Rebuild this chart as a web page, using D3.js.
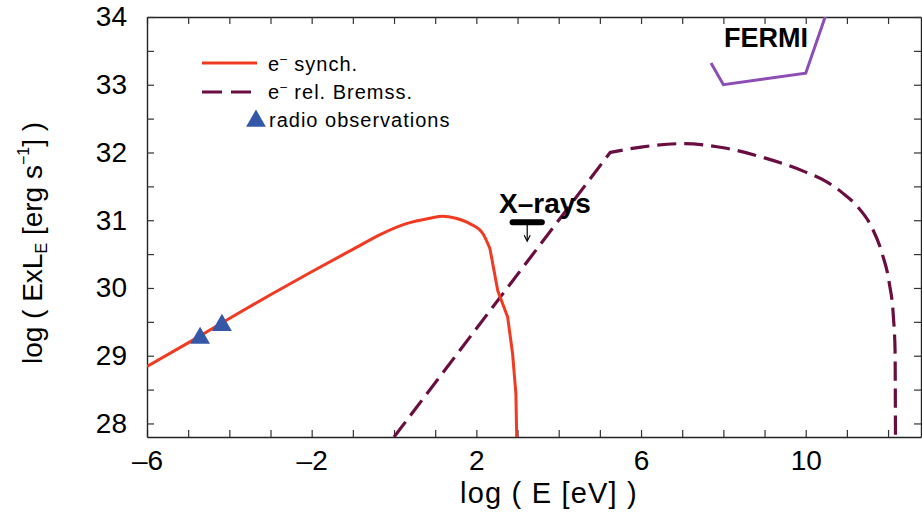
<!DOCTYPE html>
<html lang="en">
<head>
<meta charset="UTF-8">
<title>SED</title>
<script src="https://d3js.org/d3.v7.min.js"></script>
<style>
  body { margin: 0; background: #fff; }
  text { font-family: "Liberation Sans", Arial, sans-serif; fill: #000; }
</style>
</head>
<body>
<svg class="chart"></svg>
<script>
const svgW = 922, svgH = 514

// electron synchrotron curve (smooth part, then the steep cut-off)
const synchX = [-6, -5, -4, -3, -2, -1, -0.3, 0.3, 0.87, 1.18, 1.5, 1.84, 2.16, 2.33]
const synchY = [28.84, 29.19, 29.55, 29.9, 30.24, 30.57, 30.8, 30.95, 31.03, 31.06, 31.03, 30.95, 30.8, 30.58]
const synchCutX = [2.33, 2.52, 2.76, 2.88, 2.96, 2.98]
const synchCutY = [30.58, 29.96, 29.57, 29.03, 28.44, 27.8]
// relativistic bremsstrahlung curve (power-law rise, then the hump)
const bremRiseX = [0.0, 5.25]
const bremRiseY = [27.8, 32.0]
const bremX = [5.25, 6, 7, 8, 9, 10, 10.5, 10.9, 11.23, 11.6, 11.86, 12.03, 12.13, 12.17, 12.18]
const bremY = [32.0, 32.08, 32.13, 32.07, 31.92, 31.71, 31.57, 31.4, 31.22, 30.9, 30.5, 30.07, 29.57, 29.08, 27.8]
// FERMI bow
const fermiX = [7.7, 8.0, 10.0, 10.5]
const fermiY = [33.32, 33.0, 33.17, 34.05]
// radio observations
const radioX = [-4.71, -4.18]
const radioY = [29.26, 29.45]
// X-ray upper limit
const xrayBand = [2.88, 3.59]
const xrayLevel = 30.97
const xrayTip = 30.69

const xTicks = d3.range(-6, 13, 1)
const xLabels = [-6, -2, 2, 6, 10]
const yTicks = d3.range(28, 34.01, 0.5)
const yLabels = [28, 29, 30, 31, 32, 33, 34]

const m = { left: 147, top: 17, right: 1, bottom: 77 }
const w = svgW - m.left - m.right
const h = svgH - m.top - m.bottom

const svg = d3.select(".chart").attr("width", svgW).attr("height", svgH)
const g = svg.append("g").attr("transform", `translate(${m.left},${m.top})`)

const x = d3.scaleLinear().domain([-6, 12.8]).range([0, w])
const y = d3.scaleLinear().domain([27.8, 34]).range([h, 0])

const fmt = d => d < 0 ? "\u2013" + Math.abs(d) : String(d)
const tick = 7

// axes, ticks point inward on all four sides
g.append("g").attr("transform", `translate(0,${h})`)
  .call(d3.axisBottom(x).tickValues(xTicks).tickSizeInner(-tick).tickSizeOuter(0).tickPadding(13)
    .tickFormat(d => xLabels.includes(d) ? fmt(d) : ""))
g.append("g")
  .call(d3.axisTop(x).tickValues(xTicks).tickSizeInner(-tick).tickSizeOuter(0).tickFormat(""))
g.append("g")
  .call(d3.axisLeft(y).tickValues(yTicks).tickSizeInner(-tick).tickSizeOuter(0).tickPadding(20)
    .tickFormat(d => yLabels.includes(d) ? d : ""))
g.append("g").attr("transform", `translate(${w},0)`)
  .call(d3.axisRight(y).tickValues(yTicks).tickSizeInner(-tick).tickSizeOuter(0).tickFormat(""))

g.selectAll(".domain").attr("stroke", "#222").attr("stroke-width", 1.4)
g.selectAll(".tick line").attr("stroke", "#333").attr("stroke-width", 1.2)
g.selectAll(".tick text").style("font-size", "28px").style("fill", "#000")

svg.append("clipPath").attr("id", "plot").append("rect")
  .attr("x", 0).attr("y", 0).attr("width", w).attr("height", h)
const plot = g.append("g").attr("clip-path", "url(#plot)")

const lineL = d3.line().x(d => x(d[0])).y(d => y(d[1]))
const lineS = d3.line().x(d => x(d[0])).y(d => y(d[1])).curve(d3.curveMonotoneX)
// join two pieces into one path so the dash pattern runs on
const joined = (a, b) => a + b.replace(/^M/, "L")

plot.append("path")
  .attr("d", joined(lineL(d3.zip(bremRiseX, bremRiseY)), lineS(d3.zip(bremX, bremY))))
  .attr("fill", "none").attr("stroke", "#6a0d40")
  .attr("stroke-width", 3.2).attr("stroke-dasharray", "19 8")

plot.append("path")
  .attr("d", joined(lineS(d3.zip(synchX, synchY)), lineL(d3.zip(synchCutX, synchCutY))))
  .attr("fill", "none").attr("stroke", "#f03a22")
  .attr("stroke-width", 3).attr("stroke-linejoin", "round")

plot.append("path").datum(d3.zip(fermiX, fermiY))
  .attr("d", lineL).attr("fill", "none").attr("stroke", "#8c4db5")
  .attr("stroke-width", 3)

plot.selectAll(".radio").data(d3.zip(radioX, radioY)).join("path")
  .attr("class", "radio")
  .attr("d", d3.symbol(d3.symbolTriangle, 170))
  .attr("transform", d => `translate(${x(d[0])},${y(d[1])})`)
  .attr("fill", "#3457a8")

// X-ray upper limit
g.append("line")
  .attr("x1", x(xrayBand[0])).attr("x2", x(xrayBand[1]))
  .attr("y1", y(xrayLevel)).attr("y2", y(xrayLevel))
  .attr("stroke", "#000").attr("stroke-width", 6).attr("stroke-linecap", "round")
const ax = x((xrayBand[0] + xrayBand[1]) / 2)
g.append("line")
  .attr("x1", ax).attr("x2", ax).attr("y1", y(xrayLevel)).attr("y2", y(xrayTip) - 1)
  .attr("stroke", "#000").attr("stroke-width", 1.2)
g.append("path")
  .attr("d", `M${ax - 3},${y(xrayTip) - 6} L${ax},${y(xrayTip)} L${ax + 3},${y(xrayTip) - 6}`)
  .attr("fill", "none").attr("stroke", "#000").attr("stroke-width", 1.2)

svg.append("text").attr("x", 545).attr("y", 213).attr("text-anchor", "middle")
  .style("font-size", "28px").style("font-weight", "bold").text("X\u2013rays")
svg.append("text").attr("x", 766).attr("y", 47).attr("text-anchor", "middle")
  .style("font-size", "27px").style("font-weight", "bold").text("FERMI")

// legend
const leg = svg.append("g").attr("transform", "translate(202,0)")
leg.append("line").attr("x1", 0).attr("x2", 55).attr("y1", 63).attr("y2", 63)
  .attr("stroke", "#f03a22").attr("stroke-width", 3)
leg.append("line").attr("x1", 0).attr("x2", 50).attr("y1", 92).attr("y2", 92)
  .attr("stroke", "#6a0d40").attr("stroke-width", 3.2).attr("stroke-dasharray", "20 9")
leg.append("path").attr("d", d3.symbol(d3.symbolTriangle, 170))
  .attr("transform", "translate(54,121)").attr("fill", "#3457a8")

function eText(yy, rest) {
  const t = leg.append("text").attr("x", 66).attr("y", yy)
    .style("font-size", "20px").style("letter-spacing", "1px")
  t.append("tspan").text("e")
  t.append("tspan").attr("dy", -8).style("font-size", "12px").text("\u2013")
  t.append("tspan").attr("dy", 8).text(" " + rest)
}
eText(71, "synch.")
eText(99, "rel. Bremss.")
leg.append("text").attr("x", 67).attr("y", 127)
  .style("font-size", "20px").style("letter-spacing", "1px").text("radio observations")

// axis titles
svg.append("text").attr("x", 549).attr("y", 503).attr("text-anchor", "middle")
  .style("font-size", "29px").style("letter-spacing", "1.2px").text("log ( E [eV] )")

const yt = svg.append("text").attr("transform", "translate(42,243) rotate(-90)")
  .attr("text-anchor", "middle").style("font-size", "28px")
yt.append("tspan").text("log ( ExL")
yt.append("tspan").attr("dy", 5).style("font-size", "16px").text("E")
yt.append("tspan").attr("dy", -5).text(" [erg s")
yt.append("tspan").attr("dy", -13).style("font-size", "16px").text("\u22121")
yt.append("tspan").attr("dy", 13).text("] )")
</script>
</body>
</html>
